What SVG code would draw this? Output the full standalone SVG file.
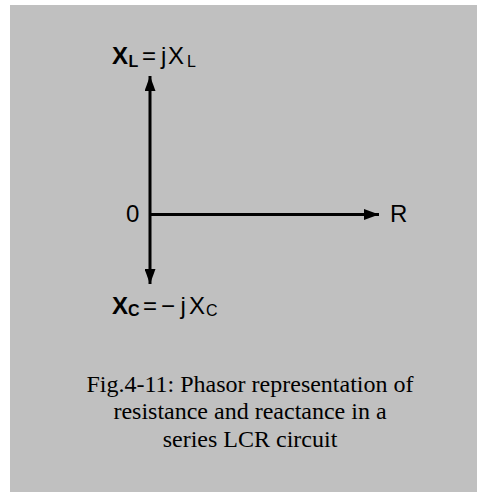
<svg xmlns="http://www.w3.org/2000/svg" width="477" height="492" viewBox="0 0 477 492">
<defs>
<style>
.lbl{font-family:"Liberation Sans",Arial,sans-serif;font-size:24px;fill:#000}
.b{font-weight:bold}
.sub{font-size:16px}
.cap{font-family:"Liberation Serif","Times New Roman",serif;font-size:24px;fill:#000;text-anchor:middle}
.axis{stroke:#000;stroke-width:3;fill:none}
</style>
<marker id="ah" markerUnits="userSpaceOnUse" markerWidth="16" markerHeight="11" refX="15" refY="5.5" orient="auto-start-reverse">
<path d="M0,0 L15,5.5 L0,11 Z" fill="#000"/>
</marker>
</defs>
<rect x="0" y="0" width="477" height="492" fill="#fff"/>
<rect x="10" y="5" width="467" height="487" fill="#c0c0c0"/>
<g id="connectors">
<line class="axis" x1="150" y1="76" x2="150" y2="284" marker-start="url(#ah)" marker-end="url(#ah)"/>
<line class="axis" x1="150" y1="214.5" x2="379" y2="214.5" marker-end="url(#ah)"/>
</g>
<g id="label-XL">
<text class="lbl" y="64"><tspan class="b" x="112">X</tspan><tspan class="b sub" x="128.5" dy="2.5">L</tspan><tspan x="142" dy="-2.5">=</tspan><tspan x="161">j</tspan><tspan x="168">X</tspan><tspan class="sub" x="187" dy="2.5">L</tspan></text>
</g>
<g id="label-XC">
<text class="lbl" y="314"><tspan class="b" x="112">X</tspan><tspan class="b sub" x="128" dy="2">C</tspan><tspan x="143" dy="-2">=</tspan><tspan x="161">−</tspan><tspan x="180.5">j</tspan><tspan x="189">X</tspan><tspan class="sub" x="206" dy="2">C</tspan></text>
</g>
<g id="label-0">
<text class="lbl" x="126" y="222">0</text>
</g>
<g id="label-R">
<text class="lbl" x="390" y="222">R</text>
</g>
<g id="caption">
<text class="cap" x="250" y="391.5">Fig.4-11: Phasor representation of</text>
<text class="cap" x="250" y="419">resistance and reactance in a</text>
<text class="cap" x="250" y="446.5">series LCR circuit</text>
</g>
</svg>
